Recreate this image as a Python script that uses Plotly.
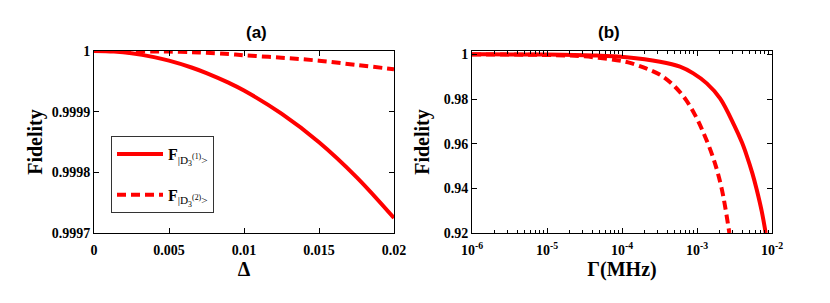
import plotly.graph_objects as go

# Panel (a): fidelity vs detuning Delta
delta_a = [0, 0.00133, 0.0025, 0.004, 0.005, 0.0065, 0.0075, 0.009, 0.01, 0.0125, 0.015, 0.0175, 0.02]
fid_a1 = [1.0, 0.999999, 0.9999963, 0.9999899, 0.9999841, 0.9999728, 0.9999636, 0.9999474, 0.9999349,
          0.9998967, 0.9998497, 0.9997922, 0.9997247]
fid_a2 = [1.0, 1.0, 0.9999995, 0.999999, 0.999999, 0.999998, 0.999997, 0.999995, 0.999993,
          0.999989, 0.999984, 0.999977, 0.99997]

# Panel (b): fidelity vs Gamma (MHz), log axis
gamma_b1 = [1e-6, 1e-5, 4.17e-5, 1.15e-4, 3.21e-4, 5.93e-4, 8.93e-4, 1.35e-3, 2.03e-3,
            3.16e-3, 3.98e-3, 4.59e-3, 5.5e-3, 6.25e-3, 7.3e-3, 8.24e-3]
fid_b1 = [0.99999, 0.9999, 0.9995, 0.9987, 0.9967, 0.9945, 0.9915, 0.9870, 0.9803,
          0.9680, 0.9605, 0.9548, 0.9465, 0.9395, 0.9297, 0.9200]
gamma_b2 = [1e-6, 1e-5, 3.16e-5, 1e-4, 1.21e-4, 2.09e-4, 3.38e-4, 5.09e-4, 7.13e-4, 9.4e-4,
            1.19e-3, 1.65e-3, 2.13e-3, 2.70e-3]
fid_b2 = [0.99997, 0.9997, 0.9991, 0.9970, 0.9964, 0.9937, 0.9904, 0.9855, 0.9796, 0.9729,
          0.9657, 0.9535, 0.9400, 0.9200]

ya_ticks = [0.9997, 0.9998, 0.9999, 1.0]
ya_text = ["0.9997", "0.9998", "0.9999", "1"]
xa_ticks = [0, 0.005, 0.01, 0.015, 0.02]
xa_text = ["0", "0.005", "0.01", "0.015", "0.02"]
yb_ticks = [0.92, 0.94, 0.96, 0.98, 1.0]
yb_text = ["0.92", "0.94", "0.96", "0.98", "1"]
xb_ticks = [1e-6, 1e-5, 1e-4, 1e-3, 1e-2]
xb_text = ["10<sup>-6</sup>", "10<sup>-5</sup>", "10<sup>-4</sup>", "10<sup>-3</sup>", "10<sup>-2</sup>"]

label1 = "<b>F</b><sub>|D<sub>3</sub><sup>(1)</sup>></sub>"
label2 = "<b>F</b><sub>|D<sub>3</sub><sup>(2)</sup>></sub>"

RED = "#ff0000"
W, H = 830, 303
serif = "Liberation Serif"
sans = "Liberation Sans"

fig = go.Figure()
fig.add_trace(go.Scatter(x=delta_a, y=fid_a1, mode="lines", name=label1, legendgroup="g1",
                         line=dict(color=RED, width=4, shape="spline"), xaxis="x", yaxis="y"))
fig.add_trace(go.Scatter(x=delta_a, y=fid_a2, mode="lines", name=label2, legendgroup="g2",
                         line=dict(color=RED, width=4, dash="9px,5px", shape="spline"), xaxis="x", yaxis="y"))
fig.add_trace(go.Scatter(x=gamma_b1, y=fid_b1, mode="lines", showlegend=False,
                         line=dict(color=RED, width=4, shape="spline"), xaxis="x2", yaxis="y2"))
fig.add_trace(go.Scatter(x=gamma_b2, y=fid_b2, mode="lines", showlegend=False,
                         line=dict(color=RED, width=4, dash="9px,5px", shape="spline"),
                         xaxis="x2", yaxis="y2"))

tickfont = dict(family=serif, size=14, color="black", weight="bold")
titlefont = dict(family=serif, size=20, color="black", weight="bold")
common = dict(showline=True, linecolor="black", linewidth=1, mirror="allticks", automargin=False,
              ticks="inside", ticklen=5, tickcolor="black", showgrid=False, zeroline=False,
              tickfont=tickfont)

ydom = [1 - 233 / H, 1 - 51 / H]
fig.update_layout(
    width=W, height=H, margin=dict(l=0, r=0, t=0, b=0),
    plot_bgcolor="white", paper_bgcolor="white",
    xaxis=dict(domain=[94 / W, 394 / W], range=[0, 0.02], tickvals=xa_ticks, ticktext=xa_text,
               ticklabelstandoff=4,
               title=dict(text="Δ", font=titlefont, standoff=0), anchor="y", **common),
    yaxis=dict(domain=ydom, range=[0.9997, 1.0], tickvals=ya_ticks, ticktext=ya_text,
               title=dict(text="Fidelity", font=titlefont, standoff=3), anchor="x", **common),
    xaxis2=dict(domain=[472 / W, 772 / W], type="log", range=[-6, -2], tickvals=xb_ticks, ticktext=xb_text,
                ticklabelstandoff=4,
                minor=dict(ticks="inside", ticklen=3, tickcolor="black", dtick="D1"),
                title=dict(text="Γ(MHz)", font=titlefont, standoff=0), anchor="y2", **common),
    yaxis2=dict(domain=ydom, range=[0.92, 1.0015], tickvals=yb_ticks, ticktext=yb_text,
                title=dict(text="Fidelity", font=titlefont, standoff=8), anchor="x2", **common),
    legend=dict(x=111 / W, y=1 - 136 / H, xanchor="left", yanchor="top",
                bordercolor="#333333", borderwidth=1, bgcolor="white",
                font=dict(family=serif, size=16, color="black"), tracegroupgap=17,
                itemwidth=46),
    annotations=[
        dict(text="(a)", x=244 / W, y=1 - 33 / H, xref="paper", yref="paper", showarrow=False,
             yanchor="middle", font=dict(family=sans, size=17, color="black", weight="bold")),
        dict(text="(b)", x=622 / W, y=1 - 33 / H, xref="paper", yref="paper", showarrow=False,
             yanchor="middle", font=dict(family=sans, size=17, color="black", weight="bold")),
    ],
)

fig.write_html("out.html", config={"displayModeBar": False},
               post_script="document.body.style.margin='0';document.body.style.overflow='hidden';")
